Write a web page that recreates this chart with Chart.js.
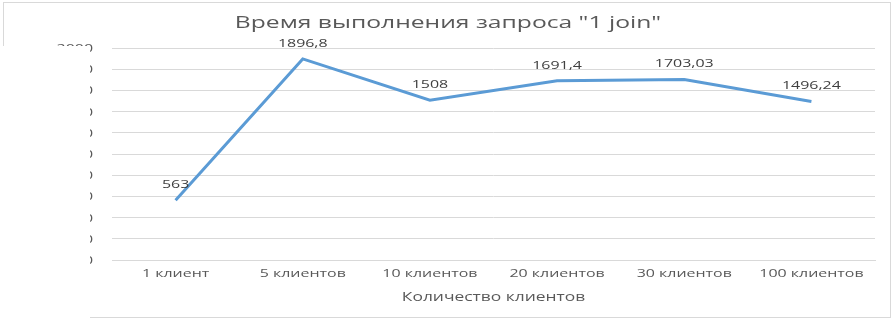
<!DOCTYPE html>
<html>
<head>
<meta charset="utf-8">
<script src="https://cdn.jsdelivr.net/npm/chart.js@4"></script>
<style>
  html, body { margin: 0; padding: 0; background: #fff; }
  #wrap { position: relative; width: 896px; height: 320px; overflow: hidden; }
  #frame { position: absolute; left: 3px; top: 2px; width: 886px; height: 314px; border: 1px solid #d9d9d9; }
  canvas { position: absolute; left: 0; top: 0; }
  #mask { position: absolute; left: 0; top: 46px; width: 90px; height: 274px; background: #fff; }
</style>
</head>
<body>
<div id="wrap">
  <div id="frame"></div>
  <canvas id="c" width="896" height="320"></canvas>
  <div id="mask"></div>
</div>
<script>
const categories = ["1 клиент", "5 клиентов", "10 клиентов", "20 клиентов", "30 клиентов", "100 клиентов"];
const timeValues = [563, 1896.8, 1508, 1691.4, 1703.03, 1496.24];
const yTicks = [0, 200, 400, 600, 800, 1000, 1200, 1400, 1600, 1800, 2000];
const titleText = 'Время выполнения запроса "1 join"';
const xTitleText = 'Количество клиентов';

const FONT = "'Open Sans', 'Liberation Sans', sans-serif";
const STRETCH = 1.45;   // the reference text is horizontally widened

function drawText(ctx, text, cx, y, size, color, align) {
  ctx.save();
  ctx.font = size + 'px ' + FONT;
  ctx.fillStyle = color;
  ctx.textAlign = align || 'center';
  ctx.textBaseline = 'alphabetic';
  ctx.translate(cx, y);
  ctx.scale(STRETCH, 1);
  ctx.fillText(text, 0, 0);
  ctx.restore();
}

const textLayer = {
  id: 'textLayer',
  afterDraw(chart) {
    const ctx = chart.ctx;
    const xs = chart.scales.x, ys = chart.scales.y, area = chart.chartArea;
    // chart title
    drawText(ctx, titleText, chart.width / 2, 28, 17, '#595959');
    // y tick labels
    yTicks.forEach(v => {
      drawText(ctx, String(v), area.left - 19, ys.getPixelForValue(v) + 4, 11, '#595959', 'right');
    });
    // x tick labels
    chart.data.labels.forEach((lab, i) => {
      drawText(ctx, lab, xs.getPixelForValue(i), 277, 11, '#595959');
    });
    // x axis title
    drawText(ctx, xTitleText, (area.left + area.right) / 2, 301, 12, '#595959');
    // data labels
    const meta = chart.getDatasetMeta(0);
    meta.data.forEach((pt, i) => {
      drawText(ctx, String(timeValues[i]).replace('.', ','), pt.x, pt.y - 12, 11, '#404040');
    });
  }
};

new Chart(document.getElementById('c'), {
  type: 'line',
  data: {
    labels: categories,
    datasets: [{
      data: timeValues,
      borderColor: '#5B9BD5',
      borderWidth: 3,
      pointRadius: 0,
      tension: 0,
      fill: false
    }]
  },
  options: {
    responsive: false,
    animation: false,
    layout: { padding: { left: 0, right: 21, top: 48, bottom: 0 } },
    plugins: {
      legend: { display: false },
      tooltip: { enabled: false },
      title: { display: false }
    },
    scales: {
      x: {
        offset: true,
        grid: { display: false, drawTicks: false },
        border: { display: true, color: '#d9d9d9', width: 1 },
        ticks: { display: false },
        afterFit(scale) { scale.height = 60; }
      },
      y: {
        min: 0,
        max: 2000,
        afterBuildTicks(scale) { scale.ticks = yTicks.map(v => ({ value: v })); },
        grid: { color: '#d9d9d9', lineWidth: 1, drawTicks: false },
        border: { display: false },
        ticks: { display: false },
        afterFit(scale) { scale.width = 112; }
      }
    }
  },
  plugins: [textLayer]
});
</script>
</body>
</html>
